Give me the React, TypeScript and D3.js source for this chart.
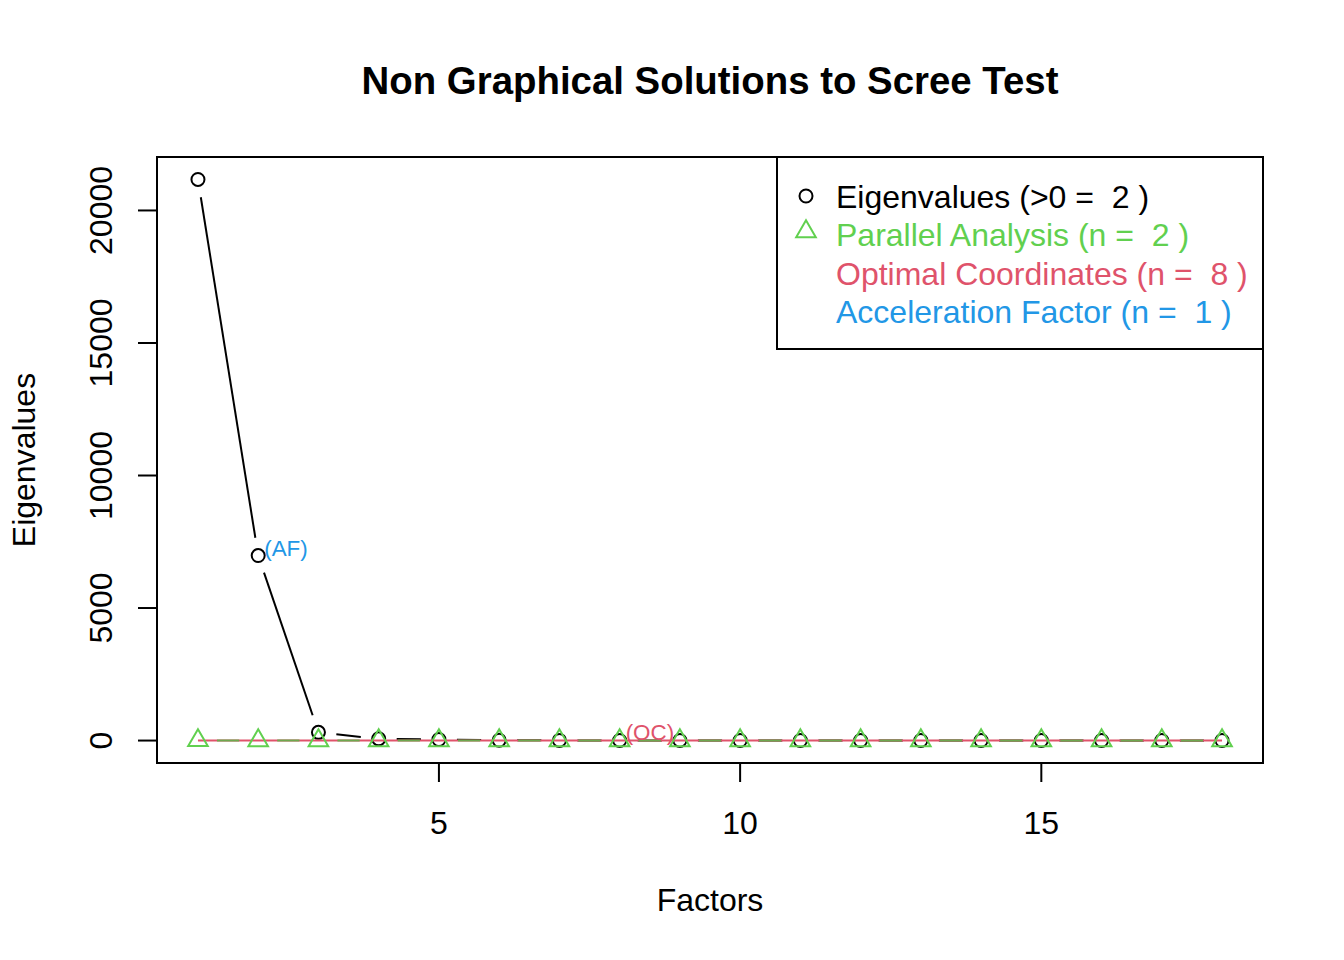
import React, { useEffect } from 'react';
import * as d3 from 'd3';

// valeurs
const factors = d3.range(1, 19);
const eigenvalues = [21170, 6980, 310, 65, 40, 12, 6, 4, 3, 2, 2, 1, 1, 1, 1, 0, 0, 0];
const parallelAnalysis = [4, 3, 3, 2, 2, 2, 1, 1, 1, 1, 1, 1, 1, 0, 0, 0, 0, 0];
const ocLine = [2, 0]; // droite des coordonnées optimales (x = 1 et x = 18)
const xTicks = [5, 10, 15];
const yTicks = [0, 5000, 10000, 15000, 20000];
const legendItems = [
  { label: 'Eigenvalues (>0 =  2 )', color: '#000000', symbol: 'circle' },
  { label: 'Parallel Analysis (n =  2 )', color: '#61D04F', symbol: 'triangle' },
  { label: 'Optimal Coordinates (n =  8 )', color: '#DF536B', symbol: '' },
  { label: 'Acceleration Factor (n =  1 )', color: '#2297E6', symbol: '' }
];
const nAF = 2;
const nOC = 8;

const W = 1344;
const H = 960;
const box = { left: 157, right: 1263, top: 157, bottom: 763 };
const font = '"Liberation Sans", Arial, Helvetica, sans-serif';

const triangle = (x: number, y: number, s = 1) => {
  const r = 11.3 * s, yc = 5.65 * s, xc = 9.8 * s;
  return `M${x},${y - r}L${x + xc},${y + yc}L${x - xc},${y + yc}Z`;
};

// segments du type "b" de R : lignes interrompues autour des points
const gappedSegments = (pts: [number, number][], gap: number) => {
  const segs: [number, number, number, number][] = [];
  for (let i = 0; i < pts.length - 1; i++) {
    const [x1, y1] = pts[i];
    const [x2, y2] = pts[i + 1];
    const len = Math.hypot(x2 - x1, y2 - y1);
    if (len <= 2 * gap) continue;
    const ux = (x2 - x1) / len, uy = (y2 - y1) / len;
    segs.push([x1 + ux * gap, y1 + uy * gap, x2 - ux * gap, y2 - uy * gap]);
  }
  return segs;
};

export default function App() {
  useEffect(() => {
    document.body.style.margin = '0';
  }, []);

  const xr = 18 - 1;
  const x = d3.scaleLinear()
    .domain([1 - 0.04 * xr, 18 + 0.04 * xr])
    .range([box.left, box.right]);
  const yMin = Math.min(d3.min(eigenvalues)!, d3.min(parallelAnalysis)!);
  const yMax = Math.max(d3.max(eigenvalues)!, d3.max(parallelAnalysis)!);
  const yr = yMax - yMin;
  const y = d3.scaleLinear()
    .domain([yMin - 0.04 * yr, yMax + 0.04 * yr])
    .range([box.bottom, box.top]);

  const eigPts = factors.map((f, i) => [x(f), y(eigenvalues[i])] as [number, number]);
  const paPts = factors.map((f, i) => [x(f), y(parallelAnalysis[i])] as [number, number]);
  const ocPath = d3.line<number>()
    .x((_, i) => x(i === 0 ? 1 : 18))
    .y(d => y(d))(ocLine) as string;

  const legendX = 777;
  const rowY = (i: number) => 196 + i * 38.6;

  return (
    <svg width={W} height={H} style={{ display: 'block', background: '#fff', fontFamily: font }}>
      <text x={(box.left + box.right) / 2} y={94} textAnchor="middle" fontSize={38.4} fontWeight="bold">
        Non Graphical Solutions to Scree Test
      </text>

      {/* axes */}
      <g stroke="#000" strokeWidth={2}>
        <line x1={x(xTicks[0])} x2={x(xTicks[xTicks.length - 1])} y1={box.bottom} y2={box.bottom} />
        {xTicks.map(t => (
          <line key={t} x1={x(t)} x2={x(t)} y1={box.bottom} y2={box.bottom + 19} />
        ))}
        <line x1={box.left} x2={box.left} y1={y(yTicks[0])} y2={y(yTicks[yTicks.length - 1])} />
        {yTicks.map(t => (
          <line key={t} x1={box.left} x2={box.left - 19} y1={y(t)} y2={y(t)} />
        ))}
      </g>
      {xTicks.map(t => (
        <text key={t} x={x(t)} y={834} textAnchor="middle" fontSize={32}>{t}</text>
      ))}
      {yTicks.map(t => (
        <text key={t} transform={`translate(112,${y(t)}) rotate(-90)`} textAnchor="middle" fontSize={32}>{t}</text>
      ))}
      <text x={(box.left + box.right) / 2} y={911} textAnchor="middle" fontSize={32}>Factors</text>
      <text transform={`translate(35,${(box.top + box.bottom) / 2}) rotate(-90)`} textAnchor="middle" fontSize={32}>
        Eigenvalues
      </text>

      {/* valeurs propres */}
      <g stroke="#000" strokeWidth={2} fill="none">
        {gappedSegments(eigPts, 18).map((s, i) => (
          <line key={i} x1={s[0]} y1={s[1]} x2={s[2]} y2={s[3]} />
        ))}
        {eigPts.map(([px, py], i) => (
          <circle key={i} cx={px} cy={py} r={6.5} />
        ))}
      </g>

      {/* coordonnées optimales */}
      <path d={ocPath} stroke="#DF536B" strokeWidth={2} fill="none" />

      {/* analyse parallèle */}
      <g stroke="#61D04F" strokeWidth={2} fill="none">
        {gappedSegments(paPts, 19).map((s, i) => (
          <line key={i} x1={s[0]} y1={s[1]} x2={s[2]} y2={s[3]} stroke="#6da84f" />
        ))}
        {paPts.map(([px, py], i) => (
          <path key={i} d={triangle(px, py)} />
        ))}
      </g>

      <text x={x(nAF) + 6} y={y(eigenvalues[nAF - 1])} fontSize={22.4} fill="#2297E6">(AF)</text>
      <text x={x(nOC) + 6} y={y(eigenvalues[nOC - 1])} fontSize={22.4} fill="#DF536B">(OC)</text>

      {/* cadre */}
      <rect x={box.left} y={box.top} width={box.right - box.left} height={box.bottom - box.top}
        fill="none" stroke="#000" strokeWidth={2} />

      {/* légende */}
      <rect x={legendX} y={box.top} width={box.right - legendX} height={349 - box.top}
        fill="#fff" stroke="#000" strokeWidth={2} />
      {legendItems.map((d, i) => (
        <g key={d.label}>
          {d.symbol === 'circle' && (
            <circle cx={806} cy={rowY(i)} r={6.5} fill="none" stroke={d.color} strokeWidth={2} />
          )}
          {d.symbol === 'triangle' && (
            <path d={triangle(806, rowY(i) - 3)} fill="none" stroke={d.color} strokeWidth={2} />
          )}
          <text x={836} y={rowY(i) + 11.5} fontSize={32} fill={d.color} style={{ whiteSpace: 'pre' }}>
            {d.label}
          </text>
        </g>
      ))}
    </svg>
  );
}
